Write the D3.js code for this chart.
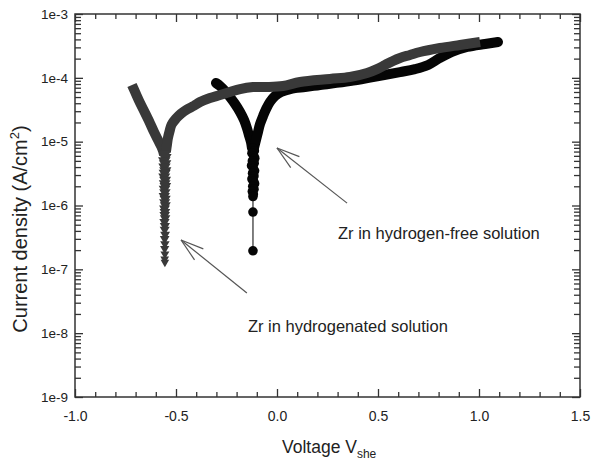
<!DOCTYPE html>
<html><head><meta charset="utf-8">
<script src="https://cdn.jsdelivr.net/npm/d3@7"></script>
<style>
html,body{margin:0;padding:0;background:#fff;}
text{font-family:Arial,"Liberation Sans",Helvetica,sans-serif;fill:#222;}
</style></head>
<body>
<svg id="chart" width="591" height="462"></svg>
<script>
// ---------- data (voltage V_she, current density A/cm2) ----------
// Zr in hydrogenated solution (grey, down triangles)
const hydCathV = [-0.718,-0.698,-0.678,-0.653,-0.629,-0.609,-0.589,-0.574,-0.564,-0.559];
const hydCathI = [7.73e-5,5.58e-5,4.04e-5,2.81e-5,1.96e-5,1.42e-5,1.06e-5,8.55e-6,7.14e-6,6.18e-6];
const hydTailV = [-0.556,-0.553,-0.558,-0.554,-0.557,-0.553,-0.556,-0.558,-0.554,-0.556,-0.553,-0.557,-0.555,-0.558,-0.554,-0.556,-0.553,-0.557,-0.555,-0.556,-0.554,-0.557,-0.555,-0.556,-0.554,-0.556,-0.555,-0.556,-0.555,-0.556,-0.555];
const hydTailI = [6.3e-6,5.6e-6,5.0e-6,4.5e-6,4.0e-6,3.5e-6,3.2e-6,2.8e-6,2.5e-6,2.2e-6,2.0e-6,1.8e-6,1.6e-6,1.4e-6,1.26e-6,1.12e-6,1.0e-6,8.9e-7,7.9e-7,7.1e-7,6.3e-7,5.5e-7,4.8e-7,4.2e-7,3.5e-7,3.0e-7,2.5e-7,2.1e-7,1.74e-7,1.45e-7,1.29e-7];
const hydAnodV = [-0.550,-0.545,-0.540,-0.532,-0.522,-0.500,-0.475,-0.446,-0.411,-0.381,-0.332,-0.282,-0.233,-0.183,-0.119,-0.050,0.030,0.114,0.262,0.361,0.446,0.495,0.535,0.574,0.609,0.658,0.708,0.807,0.906,1.005];
const hydAnodI = [6.89e-6,8.87e-6,1.14e-5,1.45e-5,1.85e-5,2.3e-5,2.75e-5,3.2e-5,3.65e-5,4.18e-5,4.83e-5,5.38e-5,6.0e-5,6.68e-5,7.18e-5,7.18e-5,7.45e-5,8.61e-5,9.6e-5,1.03e-4,1.19e-4,1.37e-4,1.59e-4,1.84e-4,2.05e-4,2.28e-4,2.54e-4,2.93e-4,3.27e-4,3.64e-4];

// Zr in hydrogen-free solution (black, circles)
const freeCathV = [-0.302,-0.282,-0.257,-0.233,-0.208,-0.183,-0.163,-0.149,-0.139,-0.129,-0.124];
const freeCathI = [8.3e-5,7.45e-5,6.2e-5,5.0e-5,3.9e-5,2.92e-5,2.18e-5,1.64e-5,1.27e-5,9.9e-6,7.96e-6];
const freeTailV = [-0.119,-0.112,-0.124,-0.115,-0.110,-0.122,-0.113,-0.126,-0.117,-0.111,-0.121,-0.114,-0.124,-0.116,-0.111,-0.120,-0.114,-0.122,-0.117,-0.119,-0.119,-0.119];
const freeTailI = [7.9e-6,7.2e-6,6.6e-6,6.0e-6,5.5e-6,5.0e-6,4.6e-6,4.2e-6,3.8e-6,3.5e-6,3.2e-6,2.9e-6,2.6e-6,2.4e-6,2.2e-6,2.0e-6,1.8e-6,1.66e-6,1.51e-6,1.38e-6,7.9e-7,1.95e-7];
const freeAnodV = [-0.114,-0.104,-0.094,-0.084,-0.069,-0.054,-0.035,-0.010,0.020,0.050,0.089,0.139,0.213,0.361,0.475,0.609,0.683,0.748,0.807,0.866,0.941,1.030,1.094];
const freeAnodI = [7.96e-6,1.06e-5,1.42e-5,1.89e-5,2.52e-5,3.25e-5,4.18e-5,5.19e-5,6.0e-5,6.44e-5,6.93e-5,7.18e-5,7.73e-5,8.9e-5,1.03e-4,1.23e-4,1.37e-4,1.59e-4,2.05e-4,2.54e-4,3.04e-4,3.39e-4,3.64e-4];

// axis ticks
const xMajor = [-1.0,-0.5,0.0,0.5,1.0,1.5];
const xMinor = [-0.9,-0.8,-0.7,-0.6,-0.4,-0.3,-0.2,-0.1,0.1,0.2,0.3,0.4,0.6,0.7,0.8,0.9,1.1,1.2,1.3,1.4];
const yMajor = [1e-9,1e-8,1e-7,1e-6,1e-5,1e-4,1e-3];
const yLabels = ["1e-9","1e-8","1e-7","1e-6","1e-5","1e-4","1e-3"];

// annotations (data coordinates)
const annoText = ["Zr in hydrogen-free solution","Zr in hydrogenated solution"];
const annoTextV = [0.302,-0.144];
const annoTextI = [2.99e-7,1.04e-8];
const arrowTipV = [0.0,-0.475];
const arrowTipI = [7.96e-6,2.88e-7];
const arrowTailV = [0.347,-0.149];
const arrowTailI = [1.09e-6,4.26e-8];

// ---------- chart ----------
const svg = d3.select("#chart");
const L=75,R=580,T=14,B=397;
const x = d3.scaleLinear().domain([-1,1.5]).range([L,R]);
const y = d3.scaleLog().domain([1e-9,1e-3]).range([B,T]);
const axisCol="#333";

const yMinor=[];
yMajor.slice(0,-1).forEach(d=>{for(let k=2;k<=9;k++) yMinor.push(d*k);});

function styleAxis(g){
  g.select(".domain").remove();
  g.selectAll(".tick line").attr("stroke",axisCol).attr("stroke-width",1.3);
}
const fmtX = v => v.toFixed(1);
// bottom
svg.append("g").attr("transform",`translate(0,${B})`)
  .call(d3.axisBottom(x).tickValues(xMinor).tickSizeInner(-5).tickSizeOuter(0).tickFormat("")).call(styleAxis);
svg.append("g").attr("transform",`translate(0,${B})`)
  .call(d3.axisBottom(x).tickValues(xMajor).tickSizeInner(-8).tickSizeOuter(0).tickPadding(14).tickFormat(fmtX))
  .call(styleAxis).call(g=>g.selectAll("text").attr("font-size",14).attr("fill","#222"));
// top
svg.append("g").attr("transform",`translate(0,${T})`)
  .call(d3.axisTop(x).tickValues(xMinor).tickSizeInner(-5).tickSizeOuter(0).tickFormat("")).call(styleAxis);
svg.append("g").attr("transform",`translate(0,${T})`)
  .call(d3.axisTop(x).tickValues(xMajor).tickSizeInner(-8).tickSizeOuter(0).tickFormat("")).call(styleAxis);
// left
svg.append("g").attr("transform",`translate(${L},0)`)
  .call(d3.axisLeft(y).tickValues(yMinor).tickSizeInner(-6).tickSizeOuter(0).tickFormat("")).call(styleAxis);
svg.append("g").attr("transform",`translate(${L},0)`)
  .call(d3.axisLeft(y).tickValues(yMajor).tickSizeInner(-8).tickSizeOuter(0).tickPadding(7).tickFormat((d,i)=>yLabels[i]))
  .call(styleAxis).call(g=>g.selectAll("text").attr("font-size",13.5).attr("fill","#222"));
// right
svg.append("g").attr("transform",`translate(${R},0)`)
  .call(d3.axisRight(y).tickValues(yMinor).tickSizeInner(-6).tickSizeOuter(0).tickFormat("")).call(styleAxis);
svg.append("g").attr("transform",`translate(${R},0)`)
  .call(d3.axisRight(y).tickValues(yMajor).tickSizeInner(-8).tickSizeOuter(0).tickFormat("")).call(styleAxis);

svg.append("rect").attr("x",L).attr("y",T).attr("width",R-L).attr("height",B-T)
  .attr("fill","none").attr("stroke",axisCol).attr("stroke-width",1.5);

// curves
const line = d3.line().x(d=>x(d[0])).y(d=>y(d[1])).curve(d3.curveCatmullRom.alpha(0.5));
const zip=(a,b)=>a.map((v,i)=>[v,b[i]]);
const black="#050505", grey="#393939";

// hydrogen-free (black)
svg.append("path").datum(zip(freeTailV,freeTailI).slice(-3))
  .attr("d",d3.line().x(d=>x(d[0])).y(d=>y(d[1])))
  .attr("fill","none").attr("stroke","#555").attr("stroke-width",1.5);
[zip(freeCathV,freeCathI),zip(freeAnodV,freeAnodI)].forEach(pts=>{
  svg.append("path").datum(pts).attr("d",line).attr("fill","none")
    .attr("stroke",black).attr("stroke-width",10).attr("stroke-linecap","round").attr("stroke-linejoin","round");
});
svg.append("g").selectAll("circle").data(zip(freeTailV,freeTailI)).join("circle")
  .attr("cx",d=>x(d[0])).attr("cy",d=>y(d[1])).attr("r",4.8).attr("fill",black);

// hydrogenated (grey)
[zip(hydCathV,hydCathI),zip(hydAnodV,hydAnodI)].forEach(pts=>{
  svg.append("path").datum(pts).attr("d",line).attr("fill","none")
    .attr("stroke",grey).attr("stroke-width",10).attr("stroke-linecap","butt").attr("stroke-linejoin","round");
});
const triSize = d3.scaleLog().domain([1.3e-7,6.3e-6]).range([32,70]);
svg.append("g").selectAll("path").data(zip(hydTailV,hydTailI)).join("path")
  .attr("transform",d=>`translate(${x(d[0])},${y(d[1])}) rotate(180)`)
  .attr("d",d=>d3.symbol(d3.symbolTriangle, triSize(d[1]))())
  .attr("fill",grey);

// annotations
const arr = svg.append("g").attr("stroke","#555").attr("stroke-width",1.2).attr("fill","none");
arrowTipV.forEach((v,i)=>{
  const x1=x(v), y1=y(arrowTipI[i]), x2=x(arrowTailV[i]), y2=y(arrowTailI[i]);
  arr.append("line").attr("x1",x1).attr("y1",y1).attr("x2",x2).attr("y2",y2);
  const a=Math.atan2(y2-y1,x2-x1), len=24, sp=17*Math.PI/180;
  [a-sp,a+sp].forEach(b=>arr.append("line").attr("x1",x1).attr("y1",y1)
    .attr("x2",x1+len*Math.cos(b)).attr("y2",y1+len*Math.sin(b)));
});
annoText.forEach((t,i)=>{
  svg.append("text").attr("x",x(annoTextV[i])).attr("y",y(annoTextI[i])).attr("font-size",16.5).text(t);
});

// axis titles
svg.append("text").attr("transform",`translate(27,229) rotate(-90)`).attr("text-anchor","middle")
  .attr("font-size",20).call(t=>{
    t.append("tspan").text("Current density (A/cm");
    t.append("tspan").attr("font-size",13).attr("dy",-8).text("2");
    t.append("tspan").attr("dy",8).text(")");
  });
svg.append("text").attr("x",282).attr("y",453).attr("font-size",17.5).call(t=>{
  t.append("tspan").text("Voltage V");
  t.append("tspan").attr("font-size",12).attr("dy",5).text("she");
});
</script>
</body></html>
